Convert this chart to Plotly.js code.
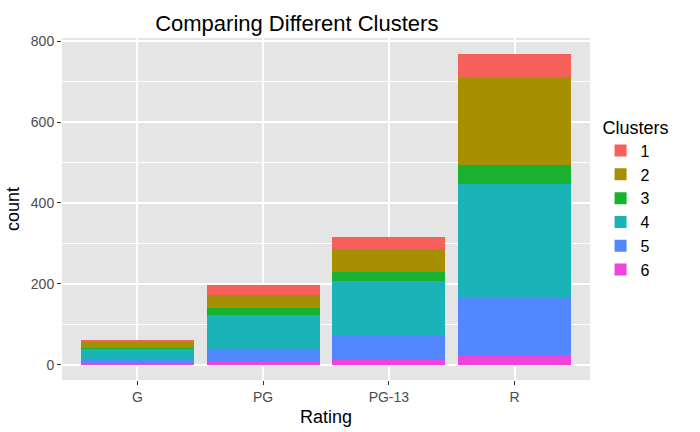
<!DOCTYPE html>
<html>
<head>
<script src="https://cdn.plot.ly/plotly-3.0.1.min.js"></script>
<style>body{margin:0}#graph{width:700px;height:432px}</style>
</head>
<body>
<div id="graph"></div>
<script>
// ratings on x axis
var ratings = ['G', 'PG', 'PG-13', 'R'];
// counts per cluster, in rating order
var c1 = [4, 23, 30, 61];
var c2 = [16, 32, 57, 213];
var c3 = [3, 17, 22, 49];
var c4 = [24, 88, 137, 278];
var c5 = [14, 29, 55, 143];
var c6 = [1, 7, 15, 25];

var names = ['1', '2', '3', '4', '5', '6'];
var counts = [c1, c2, c3, c4, c5, c6];
var colors = ['#F5605B', '#A68F00', '#18B230', '#19B3B8', '#5288FF', '#EE44DD'];

//stack from cluster 6 upwards
var data = [];
for (var i = 5; i >= 0; i--) {
  data.push({
    x: ratings,
    y: counts[i],
    name: names[i],
    type: 'bar',
    marker: {color: colors[i]},
    width: 0.9
  });
}

var layout = {
  barmode: 'stack',
  bargap: 0.1,
  paper_bgcolor: 'white',
  plot_bgcolor: '#E5E5E5',
  font: {family: 'Liberation Sans, Arial', size: 14, color: '#4D4D4D'},
  margin: {l: 62, r: 110, t: 38, b: 52},
  title: {text: 'Comparing Different Clusters', x: 0.424, xanchor: 'center', y: 0.965,
    font: {size: 22, color: 'black'}},
  xaxis: {
    title: {text: 'Rating', font: {size: 18, color: 'black'}, standoff: 6},
    range: [-0.6, 3.6],
    gridcolor: 'white', gridwidth: 2,
    ticks: 'outside', ticklen: 4, tickcolor: '#333', tickfont: {size: 14, color: '#4D4D4D'}
  },
  yaxis: {
    title: {text: 'count', font: {size: 18, color: 'black'}, standoff: 6},
    range: [-38, 808], tickvals: [0, 200, 400, 600, 800],
    gridcolor: 'white', gridwidth: 2, zeroline: false,
    minor: {tickvals: [100, 300, 500, 700], gridcolor: 'white', gridwidth: 1, showgrid: true},
    ticks: 'outside', ticklen: 4, tickcolor: '#333', tickfont: {size: 14, color: '#4D4D4D'}
  },
  legend: {
    title: {text: 'Clusters', font: {size: 18, color: 'black'}},
    traceorder: 'reversed',
    x: 1.02, y: 0.53, yanchor: 'middle',
    font: {size: 16, color: 'black'}
  },
  showlegend: true
};
var config = {responsive: true, displayModeBar: false};
Plotly.newPlot('graph', data, layout, config);
</script>
</body>
</html>
